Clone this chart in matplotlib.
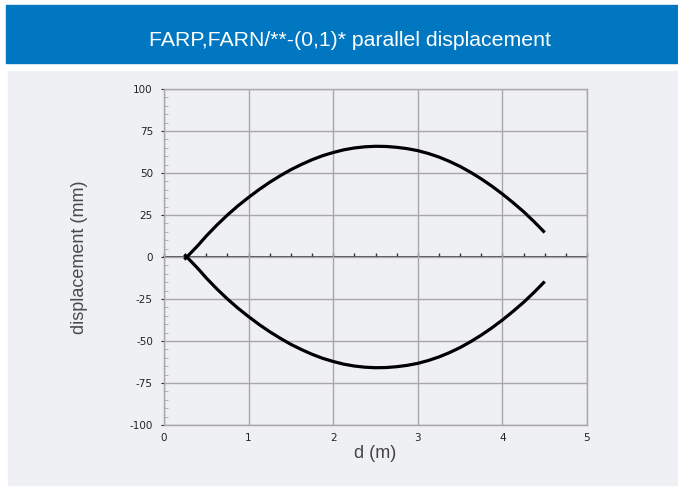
import matplotlib
matplotlib.use('Agg')
import matplotlib.pyplot as plt
from matplotlib.patches import Rectangle
import numpy as np

plt.rcParams['axes.unicode_minus'] = False

# distance along the span (m) and parallel displacement (mm)
d_upper = [0.24, 0.27, 0.4, 0.5, 0.625, 0.75, 0.875, 1.0, 1.125, 1.25, 1.375,
           1.5, 1.625, 1.75, 1.875, 2.0, 2.125, 2.25, 2.375, 2.5, 2.625,
           2.75, 2.875, 3.0, 3.125, 3.25, 3.375, 3.5, 3.625, 3.75, 3.875,
           4.0, 4.125, 4.25, 4.375, 4.5]
disp_upper = [-1.5, 0, 6.8, 12.5, 19, 25, 30.5, 35.5, 40.2, 44.5, 48.4,
              52, 55.1, 57.9, 60.3, 62.2, 63.8, 64.9, 65.6, 65.9, 65.8,
              65.3, 64.5, 63.3, 61.6, 59.5, 56.9, 53.9, 50.4, 46.5, 42.2,
              37.5, 32.4, 27, 21, 14.6]
d_lower = list(d_upper)
disp_lower = [1.5, 0, -6.8, -12.5, -19, -25, -30.5, -35.5, -40.2, -44.5, -48.4,
              -52, -55.1, -57.9, -60.3, -62.2, -63.8, -64.9, -65.6, -65.9, -65.8,
              -65.3, -64.5, -63.3, -61.6, -59.5, -56.9, -53.9, -50.4, -46.5, -42.2,
              -37.5, -32.4, -27, -21, -14.6]

x_ticks = [0, 1, 2, 3, 4, 5]
y_ticks = [-100, -75, -50, -25, 0, 25, 50, 75, 100]

title = 'FARP,FARN/**-(0,1)* parallel displacement'
panel = '#eff0f3'
grid_c = '#a8a8a8'

fig = plt.figure(figsize=(6.78, 4.87), dpi=100)
fig.patch.set_facecolor('white')

# header banner and chart panel
fig.add_artist(Rectangle((6/678, 1 - 63/487), 672/678, 58/487,
                         transform=fig.transFigure, color='#0077c0', zorder=0))
fig.add_artist(Rectangle((8/678, 1 - 485/487), 669/678, 414/487,
                         transform=fig.transFigure, color=panel, zorder=0))
fig.text(350/678, 1 - 41/487, title, color='white', fontsize=15.3,
         family='Liberation Sans', ha='center', va='center')

ax = fig.add_axes([164/678, 1 - 425/487, 423/678, 336/487])
ax.set_facecolor(panel)
ax.set_xlim(0, 5)
ax.set_ylim(-100, 100)
ax.set_xticks(x_ticks)
ax.set_yticks(y_ticks)
ax.set_yticks(np.arange(-100, 101, 5), minor=True)
ax.grid(True, color=grid_c, lw=1)
for s in ax.spines.values():
    s.set_color(grid_c)
    s.set_linewidth(1)
ax.tick_params(axis='x', length=0, labelsize=7.5, pad=6, colors='#222222')
ax.tick_params(axis='y', which='major', length=2, direction='out',
               labelsize=7.5, pad=6, colors='#222222')
ax.tick_params(axis='y', which='minor', length=3, direction='in', color=grid_c)

# zero line with its own small ticks pointing up
zero = ax.secondary_xaxis(0.5)
for side in ('top', 'bottom'):
    zero.spines[side].set_color('#333333')
    zero.spines[side].set_linewidth(1.2)
zero.set_xticks(np.arange(0, 5.01, 0.25))
zero.set_xticklabels([])
zero.tick_params(axis='x', direction='out', length=3, width=1,
                 color='#333333', labelbottom=False, labeltop=False)

ax.plot(d_upper, disp_upper, color='black', lw=2.3, solid_capstyle='butt',
        solid_joinstyle='round', zorder=5)
ax.plot(d_lower, disp_lower, color='black', lw=2.3, solid_capstyle='butt',
        solid_joinstyle='round', zorder=5)

ax.set_xlabel('d (m)', fontsize=13, color='#444444', family='Liberation Sans', labelpad=1)
ax.set_ylabel('displacement (mm)', fontsize=13, color='#4a4a4a',
              family='Liberation Sans', labelpad=30)

fig.savefig('out.png', dpi=100)
